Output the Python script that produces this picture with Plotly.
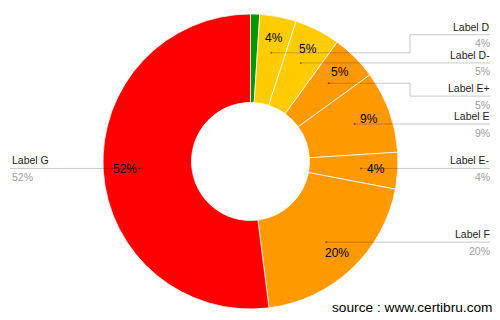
import math
import plotly.graph_objects as go

# ---- data ----
labels = ["Label C", "Label D", "Label D-", "Label E+", "Label E", "Label E-", "Label F", "Label G"]
values = [1, 4, 5, 5, 9, 4, 20, 52]
colors = ["#009900", "#ffcc00", "#ffcc00", "#ff9900", "#ff9900", "#ff9900", "#ff9900", "#ff0000"]
source_text = "source : www.certibru.com"

# ---- layout constants (pixels) ----
W, H = 500, 320
CX, CY, R = 250.5, 161.5, 147.5
HOLE = 0.40
FONT = "Liberation Sans, Arial, sans-serif"
MIN_SHOWN = 2          # slices below this get no labels
GAP = 30.7             # min vertical spacing between outside labels
SNAP = 4               # tiny offsets are drawn straight
BEND_X = 410
RIGHT_END = 490
LEFT_END = 10
POINT_R = 0.75 * R
TEXT_R = 0.855 * R


def px(x):
    return x / W


def py(y):
    return 1 - y / H


fig = go.Figure(go.Pie(
    labels=labels, values=values, hole=HOLE, sort=False,
    direction="clockwise", rotation=0,
    marker=dict(colors=colors, line=dict(color="rgba(255,255,255,0.75)", width=1)),
    textinfo="none", hoverinfo="label+percent", showlegend=False,
    domain=dict(x=[px(CX - R), px(CX + R)], y=[py(CY + R), py(CY - R)]),
))

total = sum(values)
cum = 0
items = []
for lab, v in zip(labels, values):
    mid = (cum + v / 2) / total
    cum += v
    th = 2 * math.pi * mid
    pct = round(100 * v / total)
    items.append(dict(label=lab, pct=pct, v=v, th=th,
                      x=CX + POINT_R * math.sin(th), y=CY - POINT_R * math.cos(th),
                      tx=CX + TEXT_R * math.sin(th), ty=CY - TEXT_R * math.cos(th)))

shown = [it for it in items if it["v"] >= MIN_SHOWN]
right = sorted([it for it in shown if math.sin(it["th"]) >= 0], key=lambda d: d["y"])
left = sorted([it for it in shown if math.sin(it["th"]) < 0], key=lambda d: d["y"])


def place(side):
    # clusters of overlapping labels, each centred on the mean of its natural positions
    clusters = [[it] for it in side]

    def pos(cl):
        mean = sum(i["y"] for i in cl) / len(cl)
        start = mean - GAP * (len(cl) - 1) / 2
        return [start + GAP * k for k in range(len(cl))]

    merged = True
    while merged:
        merged = False
        for k in range(len(clusters) - 1):
            a, b = pos(clusters[k]), pos(clusters[k + 1])
            if b[0] - a[-1] < GAP:
                clusters[k] = clusters[k] + clusters[k + 1]
                del clusters[k + 1]
                merged = True
                break
    for cl in clusters:
        for it, y in zip(cl, pos(cl)):
            it["ly"] = it["y"] if abs(y - it["y"]) < SNAP else y


place(right)
place(left)

shapes = []
annotations = []
LINE = dict(color="rgba(0,0,0,0.22)", width=1)


def seg(x0, y0, x1, y1):
    shapes.append(dict(type="line", xref="paper", yref="paper",
                       x0=px(x0), y0=py(y0), x1=px(x1), y1=py(y1), line=LINE))


for it in shown:
    isright = math.sin(it["th"]) >= 0
    end = RIGHT_END if isright else LEFT_END
    if it["ly"] == it["y"]:
        seg(it["x"], it["y"], end, it["y"])
    else:
        bx = BEND_X if isright else W - BEND_X
        seg(it["x"], it["y"], bx, it["y"])
        seg(bx, it["y"], bx, it["ly"])
        seg(bx, it["ly"], end, it["ly"])
    shapes.append(dict(type="circle", xref="paper", yref="paper",
                       x0=px(it["x"] - 1), x1=px(it["x"] + 1),
                       y0=py(it["y"] + 1), y1=py(it["y"] - 1),
                       fillcolor="rgba(0,0,0,0.45)", line=dict(width=0)))
    tx_anchor = "right" if isright else "left"
    tx = end + 1.5 if isright else end - 0.5
    annotations.append(dict(x=px(tx), y=py(it["ly"] - 8), xref="paper", yref="paper",
                            text=it["label"], showarrow=False, xanchor=tx_anchor, yanchor="middle",
                            font=dict(family=FONT, size=10.5, color="#222222")))
    annotations.append(dict(x=px(tx), y=py(it["ly"] + 8.5), xref="paper", yref="paper",
                            text=f"{it['pct']}%", showarrow=False, xanchor=tx_anchor, yanchor="middle",
                            font=dict(family=FONT, size=10.5, color="#9e9e9e")))
    annotations.append(dict(x=px(it["tx"]), y=py(it["ty"]), xref="paper", yref="paper",
                            text=f"{it['pct']}%", showarrow=False, xanchor="center", yanchor="middle",
                            font=dict(family=FONT, size=12, color="#000000")))

annotations.append(dict(x=px(495), y=py(307.5), xref="paper", yref="paper",
                        text=source_text, showarrow=False, xanchor="right", yanchor="middle",
                        font=dict(family=FONT, size=13.7, color="#000000")))

fig.update_layout(
    width=W, height=H, margin=dict(l=0, r=0, t=0, b=0),
    paper_bgcolor="white", plot_bgcolor="white",
    shapes=shapes, annotations=annotations,
)

fig.write_html("out.html")
